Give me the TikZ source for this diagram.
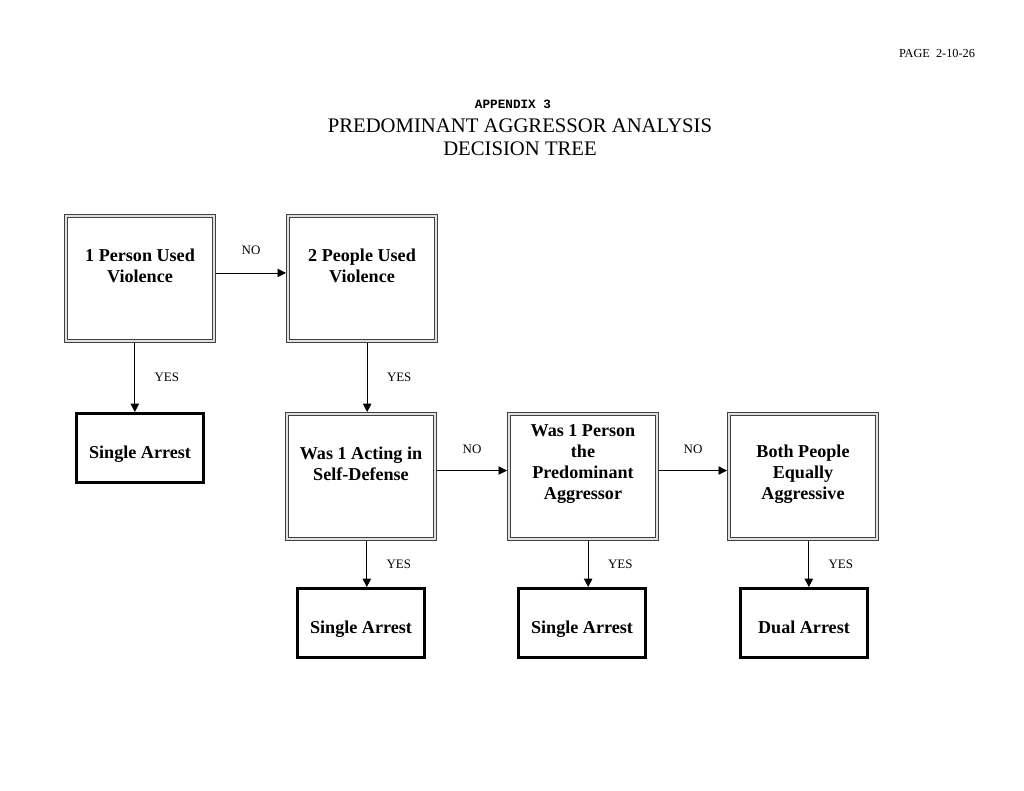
\documentclass[tikz,border=0pt]{standalone}
\usepackage{fontspec}
\setmainfont{Liberation Serif}
\setmonofont{Liberation Mono}
\usetikzlibrary{arrows.meta,positioning}
\tikzset{
  dbox/.style={draw=black!75, double=black!12, line width=1.05pt, double distance=1pt,
    minimum width=114.5pt, minimum height=96.5pt, outer sep=1.55pt},
  sbox/.style={draw, line width=2.6pt, minimum width=98pt, minimum height=53pt,
    outer sep=1.3pt, text height=17pt, text depth=0pt,
    font=\bfseries\fontsize{14}{16.2}\selectfont},
  btext/.style={align=center, font=\bfseries\fontsize{14}{16.2}\selectfont},
  lbl/.style={font=\fontsize{10}{12}\selectfont, inner sep=1pt},
  arr/.style={line width=0.65pt, -{Triangle[length=6.5pt,width=6.5pt]}}
}
\begin{document}
\begin{tikzpicture}[x=0.773pt,y=-0.773pt]
\useasboundingbox (0,0) rectangle (1024,791);
% header
\node[font=\fontsize{9.5}{11}\selectfont] (page) at (937,53) {PAGE\ \ 2-10-26};
\node[font=\ttfamily\bfseries\fontsize{9.8}{11}\selectfont] (app) at (513,104) {APPENDIX 3};
\node[align=center, font=\fontsize{16}{17.8}\selectfont] (title) at (520,137)
  {PREDOMINANT AGGRESSOR ANALYSIS\\DECISION TREE};
% question boxes
\node[dbox] (a) at (140,278.5) {};
\node[dbox] (b) at (362,278.5) {};
\node[dbox] (c) at (361,476.5) {};
\node[dbox] (d) at (583,476.5) {};
\node[dbox] (e) at (803,476.5) {};
\node[btext] (atxt) at ([yshift=10pt]a.center) {1 Person Used\\Violence};
\node[btext] (btxt) at ([yshift=10pt]b.center) {2 People Used\\Violence};
\node[btext] (ctxt) at ([yshift=10pt]c.center) {Was 1 Acting in\\Self-Defense};
\node[btext] (dtxt) at ([yshift=9.5pt]d.center) {Was 1 Person\\the\\Predominant\\Aggressor};
\node[btext] (etxt) at ([yshift=2pt]e.center) {Both People\\Equally\\Aggressive};
% arrest boxes
\node[sbox] (s1) at (140,448) {Single Arrest};
\node[sbox] (s2) at (361,623) {Single Arrest};
\node[sbox] (s3) at (582,623) {Single Arrest};
\node[sbox] (s4) at (804,623) {Dual Arrest};
% connectors
\draw[arr] ([yshift=4.3pt]a.east) -- node[lbl, above=13pt] (no1) {NO} ([yshift=4.3pt]b.west);
\draw[arr] ([yshift=4.6pt]c.east) -- node[lbl, above=12pt] (no2) {NO} ([yshift=4.6pt]d.west);
\draw[arr] ([yshift=4.6pt]d.east) -- node[lbl, above=12pt] (no3) {NO} ([yshift=4.6pt]e.west);
\draw[arr] ([xshift=-4pt]a.south) -- node[lbl, right=14pt] (yes1) {YES} ([xshift=-4pt]a.south |- s1.north);
\draw[arr] ([xshift=4pt]b.south) -- node[lbl, right=14pt] (yes2) {YES} ([xshift=4pt]b.south |- c.north);
\draw[arr] ([xshift=4.5pt]c.south) -- node[lbl, right=14pt] (yes3) {YES} ([xshift=4.5pt]c.south |- s2.north);
\draw[arr] ([xshift=4pt]d.south) -- node[lbl, right=14pt] (yes4) {YES} ([xshift=4pt]d.south |- s3.north);
\draw[arr] ([xshift=4.5pt]e.south) -- node[lbl, right=14pt] (yes5) {YES} ([xshift=4.5pt]e.south |- s4.north);
\end{tikzpicture}
\end{document}
